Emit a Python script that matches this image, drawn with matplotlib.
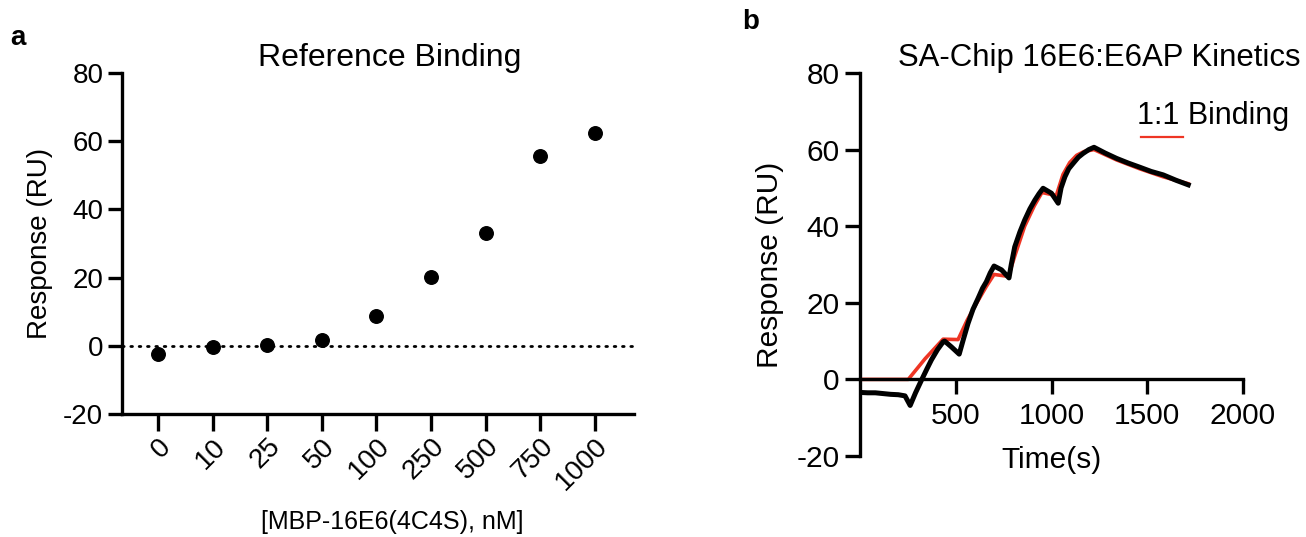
import matplotlib.pyplot as plt
from matplotlib.lines import Line2D

plt.rcParams['font.family'] = ['Liberation Sans', 'DejaVu Sans']
plt.rcParams['axes.unicode_minus'] = False

# panel a - reference binding (endpoint response per concentration)
conc_labels = ['0', '10', '25', '50', '100', '250', '500', '750', '1000']
ref_response = [-2.3, -0.4, 0.2, 1.7, 8.7, 20.3, 33.1, 55.7, 62.4]

# panel b - single cycle kinetics, measured sensorgram
t_obs = [0, 40, 80, 120, 160, 200, 235, 262,
         290, 321, 350, 373, 405, 434, 442,
         477, 518,
         540, 564, 590, 617, 640, 660, 680, 700,
         739, 778,
         790, 808, 835, 860, 887, 913, 935, 956,
         1000, 1035,
         1050, 1070, 1090, 1113, 1140, 1165, 1195, 1222,
         1280, 1340, 1400, 1461, 1520, 1583, 1650, 1714]
r_obs = [-3.4, -3.5, -3.5, -3.7, -3.9, -4.0, -4.3, -6.8,
         -3.5, -0.2, 2.8, 5.1, 7.8, 9.8, 10.0,
         8.5, 6.6,
         10.5, 14.6, 18.3, 21.2, 23.8, 25.5, 27.8, 29.6,
         28.6, 26.5,
         30.0, 34.6, 38.5, 41.6, 44.5, 46.8, 48.5, 49.9,
         48.6, 46.0,
         50.0, 52.9, 55.0, 56.4, 58.0, 59.0, 60.0, 60.6,
         59.1, 57.7, 56.5, 55.4, 54.3, 53.4, 52.0, 50.8]

# 1:1 binding fit
t_fit = [0, 252, 340, 434, 512, 560, 610, 660, 700, 775, 810, 860, 910, 950,
         1025, 1060, 1095, 1131, 1170, 1222, 1340, 1460, 1583, 1714]
r_fit = [0, 0, 5.4, 10.5, 10.4, 15.5, 20.0, 24.3, 27.4, 26.9, 32.5, 40.0, 45.3, 48.8,
         48.0, 53.5, 56.6, 58.5, 59.5, 60.0, 57.3, 55.0, 52.9, 51.1]

red = '#EE3524'
spine_w = 2.4

fig = plt.figure(figsize=(13.06, 5.37), dpi=100)

# ---- panel a ----
ax1 = fig.add_axes([122/1306, 1-414/537, (634-122)/1306, (414-73)/537])
xpos = list(range(len(conc_labels)))
ax1.axhline(0, color='black', lw=2, ls=(0, (0.6, 2.4)), dash_capstyle='round', zorder=1)
ax1.scatter(xpos, ref_response, s=95, color='black', zorder=3)
ax1.set_xlim(-0.66, 8.72)
ax1.set_ylim(-20, 80)
ax1.set_yticks([-20, 0, 20, 40, 60, 80])
ax1.set_xticks(xpos)
ax1.set_xticklabels(conc_labels, rotation=45, ha='right', va='top',
                    rotation_mode='anchor')
ax1.tick_params(axis='both', labelsize=20, width=spine_w, length=10)
ax1.tick_params(axis='x', length=12, pad=2)
for s in ['top', 'right']:
    ax1.spines[s].set_visible(False)
for s in ['left', 'bottom']:
    ax1.spines[s].set_linewidth(spine_w)
ax1.set_ylabel('Response (RU)', fontsize=20, labelpad=7)
ax1.set_xlabel('[MBP-16E6(4C4S), nM]', fontsize=18, labelpad=10, x=0.527)
ax1.set_title('Reference Binding', fontsize=23, pad=4, x=0.523)

# ---- panel b ----
ax2 = fig.add_axes([860/1306, 1-456/537, (1243-860)/1306, (456-73)/537])
ax2.plot(t_fit, r_fit, color=red, lw=2.6, zorder=2)
ax2.plot(t_obs, r_obs, color='black', lw=3.6, zorder=3, solid_joinstyle='round')
ax2.set_xlim(0, 2000)
ax2.set_ylim(-20, 80)
ax2.set_xticks([500, 1000, 1500, 2000])
ax2.set_yticks([-20, 0, 20, 40, 60, 80])
ax2.spines['bottom'].set_position(('data', 0))
for s in ['top', 'right']:
    ax2.spines[s].set_visible(False)
for s in ['left', 'bottom']:
    ax2.spines[s].set_linewidth(spine_w)
ax2.tick_params(axis='both', labelsize=21.5, width=spine_w, length=11)
ax2.tick_params(axis='x', pad=5)
ax2.set_ylabel('Response (RU)', fontsize=21.5, labelpad=9)
ax2.set_xlabel('Time(s)', fontsize=21.5, labelpad=12)
ax2.set_title('SA-Chip 16E6:E6AP Kinetics', fontsize=22.4, pad=4, x=0.624)

# legend drawn Prism-style: label with the sample line under it
fig.text(1137/1306, 1-116/537, '1:1 Binding', fontsize=22, va='center', ha='left')
fig.add_artist(Line2D([1141/1306, 1183/1306], [1-137/537, 1-137/537], color=red, lw=1.6))

# panel letters
fig.text(10/1306, 1-38/537, 'a', fontsize=20, fontweight='bold', va='center')
fig.text(742/1306, 1-22/537, 'b', fontsize=20, fontweight='bold', va='center')

fig.savefig('out.png', dpi=100)
